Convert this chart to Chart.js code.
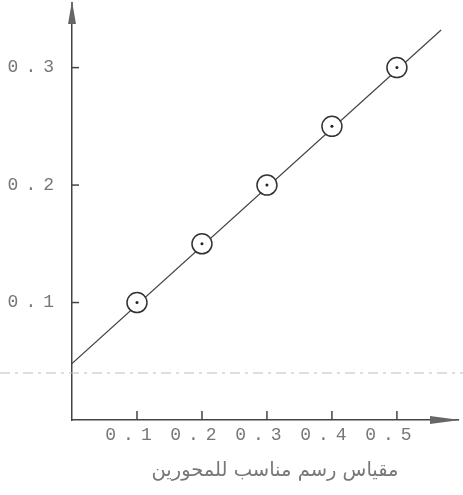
<!DOCTYPE html>
<html>
<head>
<meta charset="utf-8">
<script src="https://cdn.jsdelivr.net/npm/chart.js@4.4.1/dist/chart.umd.min.js"></script>
<style>
  body { margin: 0; background: #fff; }
</style>
</head>
<body>
<canvas id="scaleChart" width="463" height="495"></canvas>
<script>
// measured points
const xValues = [0.1, 0.2, 0.3, 0.4, 0.5];
const yValues = [0.1, 0.15, 0.2, 0.25, 0.3];

// straight line drawn through the points
const fitX = [0, 0.568];
const fitY = [0.048, 0.332];

// tick labels
const xTicks = [0.1, 0.2, 0.3, 0.4, 0.5];
const yTicks = [0.1, 0.2, 0.3];

const axisTitle = 'مقياس رسم مناسب للمحورين';
const foldLineY = 0.04; // faint dashed line across the scan

const toPoints = (xs, ys) => xs.map((v, i) => ({ x: v, y: ys[i] }));

// inward ticks, arrows, fold line and the axis title
const decor = {
    id: 'decor',
    beforeDraw(chart) {
        chart.ctx.letterSpacing = '7px'; // typewriter spacing on tick labels
    },
    afterDraw(chart) {
        const { ctx, scales: { x, y } } = chart;
        const line = (x1, y1, x2, y2) => {
            ctx.beginPath(); ctx.moveTo(x1, y1); ctx.lineTo(x2, y2); ctx.stroke();
        };
        ctx.save();
        ctx.letterSpacing = '0px';

        const fy = y.getPixelForValue(foldLineY);
        ctx.strokeStyle = '#bdbdbd';
        ctx.lineWidth = 1;
        ctx.setLineDash([10, 5, 3, 5]);
        line(0, fy, chart.width, fy);
        ctx.setLineDash([]);

        ctx.strokeStyle = '#444';
        ctx.lineWidth = 1.5;
        line(x.left, 2, x.left, y.top); // axis runs up to the arrow
        yTicks.forEach(v => {
            const py = y.getPixelForValue(v);
            line(x.left - 1, py, x.left + 7, py);
        });
        xTicks.forEach(v => {
            const px = x.getPixelForValue(v);
            line(px, y.bottom, px, y.bottom - 9);
        });

        // arrow heads
        ctx.fillStyle = '#666';
        ctx.beginPath();
        ctx.moveTo(x.left, 1);
        ctx.lineTo(x.left - 4, 24);
        ctx.lineTo(x.left + 4, 24);
        ctx.closePath();
        ctx.fill();
        ctx.beginPath();
        ctx.moveTo(460, y.bottom);
        ctx.lineTo(430, y.bottom - 4);
        ctx.lineTo(430, y.bottom + 4);
        ctx.closePath();
        ctx.fill();

        ctx.fillStyle = '#777';
        ctx.font = '19.5px "DejaVu Sans"';
        ctx.textAlign = 'center';
        ctx.textBaseline = 'middle';
        ctx.fillText(axisTitle, 275, 471);
        ctx.restore();
    }
};

const tickFont = { family: '"Liberation Mono", monospace', size: 18 };

new Chart(document.getElementById('scaleChart').getContext('2d'), {
    type: 'scatter',
    data: {
        datasets: [
            {
                data: toPoints(xValues, yValues),
                pointRadius: 1.5,
                pointBackgroundColor: '#222',
                pointBorderWidth: 0,
                order: 1
            },
            {
                data: toPoints(xValues, yValues),
                pointRadius: 10,
                pointBackgroundColor: '#fff',
                pointBorderColor: '#333',
                pointBorderWidth: 1.5,
                order: 2
            },
            {
                data: toPoints(fitX, fitY),
                showLine: true,
                borderColor: '#444',
                borderWidth: 1.2,
                pointRadius: 0,
                order: 3
            }
        ]
    },
    options: {
        responsive: false,
        animation: false,
        layout: { autoPadding: false, padding: { top: 5, right: 5, left: 0, bottom: 0 } },
        plugins: { legend: { display: false }, tooltip: { enabled: false } },
        scales: {
            x: {
                type: 'linear',
                min: 0,
                max: 0.594,
                afterBuildTicks: s => { s.ticks = xTicks.map(v => ({ value: v })); },
                afterFit: s => { s.height = 75; },
                grid: { drawOnChartArea: false, drawTicks: false },
                border: { color: '#444', width: 1.5 },
                ticks: {
                    color: '#777',
                    font: tickFont,
                    padding: 4,
                    labelOffset: -5,
                    maxRotation: 0,
                    autoSkip: false,
                    callback: v => v.toFixed(1)
                }
            },
            y: {
                type: 'linear',
                min: 0,
                max: 0.339,
                afterBuildTicks: s => { s.ticks = yTicks.map(v => ({ value: v })); },
                afterFit: s => { s.width = 72; },
                grid: { drawOnChartArea: false, drawTicks: false },
                border: { color: '#444', width: 1.5 },
                ticks: {
                    color: '#777',
                    font: tickFont,
                    padding: 11,
                    callback: v => v.toFixed(1)
                }
            }
        }
    },
    plugins: [decor]
});
</script>
</body>
</html>
